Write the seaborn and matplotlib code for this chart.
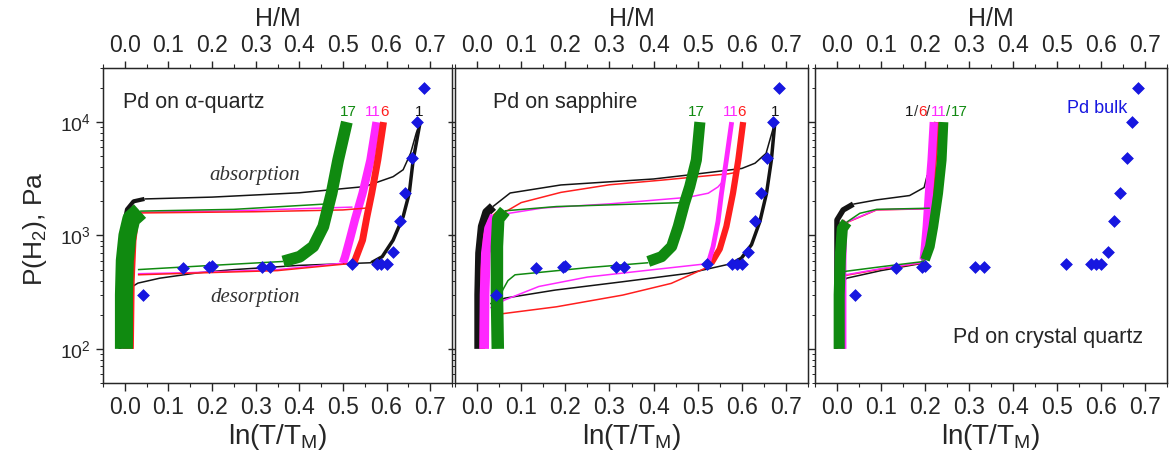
import numpy as np
import pandas as pd
import matplotlib
matplotlib.use('Agg')
import matplotlib.pyplot as plt
from matplotlib.ticker import MultipleLocator, LogLocator, NullFormatter
import seaborn as sns

sns.set_style('ticks')
plt.rcParams['font.family'] = ['Liberation Sans', 'DejaVu Sans']
plt.rcParams['mathtext.default'] = 'regular'

# ---- data: (ln(T/TM), P in Pa) ----
# Pd bulk (same in all panels)
BULK_X = [0.042, 0.133, 0.194, 0.200, 0.314, 0.333, 0.521, 0.577, 0.588, 0.601,
          0.615, 0.630, 0.643, 0.658, 0.670, 0.685]
BULK_P = [300, 515, 531, 535, 531, 531, 560, 560, 560, 560,
          711, 1350, 2370, 4850, 10000, 19900]

# Pd on alpha-quartz
QZ_K_ALPHA = [(-0.010, 100), (-0.010, 500), (-0.005, 1100), (0.005, 1700), (0.020, 2000), (0.045, 2100)]
QZ_K_ABS = [(0.045, 2100), (0.20, 2180), (0.40, 2380), (0.55, 2700), (0.615, 3300), (0.638, 3800),
            (0.655, 5300), (0.668, 8000), (0.677, 10000)]
QZ_K_BETA = [(0.677, 10000), (0.661, 4630), (0.652, 2360), (0.638, 1465), (0.615, 910), (0.590, 650), (0.565, 575)]
QZ_K_DES = [(0.565, 575), (0.40, 545), (0.25, 500), (0.17, 470), (0.08, 420), (0.03, 380), (0.01, 340)]

QZ_R_ALPHA = [(0.008, 100), (0.010, 400), (0.014, 900), (0.020, 1400), (0.035, 1580)]
QZ_R_ABS = [(0.035, 1580), (0.30, 1620), (0.50, 1680), (0.558, 1750)]
QZ_R_BETA = [(0.593, 10000), (0.580, 4630), (0.566, 2360), (0.555, 1465), (0.545, 910), (0.525, 570)]
QZ_R_DES = [(0.525, 570), (0.35, 490), (0.15, 465), (0.03, 450)]

QZ_M_ALPHA = [(0.000, 100), (0.003, 500), (0.010, 1100), (0.030, 1600)]
QZ_M_ABS = [(0.030, 1600), (0.25, 1650), (0.522, 1780)]
QZ_M_BETA = [(0.577, 10000), (0.563, 4630), (0.545, 2360), (0.528, 1400), (0.515, 900), (0.505, 650), (0.500, 570)]
QZ_M_DES = [(0.500, 570), (0.35, 500), (0.15, 470), (0.03, 460)]

QZ_G_ALPHA = [(-0.002, 100), (-0.002, 300), (0.000, 600), (0.006, 1000), (0.015, 1400), (0.035, 1640)]
QZ_G_ABS = [(0.035, 1640), (0.25, 1700), (0.466, 1900)]
QZ_G_BETA = [(0.509, 10000), (0.489, 4630), (0.474, 2360), (0.455, 1200), (0.432, 800), (0.401, 650), (0.363, 590)]
QZ_G_DES = [(0.363, 590), (0.20, 545), (0.03, 500)]

# Pd on sapphire
SP_K_ALPHA = [(0.004, 100), (0.004, 300), (0.006, 700), (0.012, 1200), (0.022, 1600), (0.036, 1800)]
SP_K_ABS = [(0.036, 1800), (0.075, 2370), (0.19, 2790), (0.40, 3150), (0.48, 3420), (0.60, 3900),
            (0.63, 4340), (0.655, 5300), (0.668, 8000), (0.675, 10000)]
SP_K_BETA = [(0.675, 10000), (0.667, 4630), (0.656, 2360), (0.641, 1330), (0.622, 830), (0.599, 630), (0.577, 565)]
SP_K_DES = [(0.577, 565), (0.478, 463), (0.328, 390), (0.177, 330), (0.063, 280), (0.03, 250)]

SP_R_ALPHA = [(0.012, 100), (0.014, 500), (0.020, 1000), (0.030, 1350), (0.048, 1570)]
SP_R_ABS = [(0.048, 1570), (0.068, 1650), (0.10, 1950), (0.19, 2400), (0.30, 2800), (0.42, 3080),
            (0.50, 3300), (0.57, 3500), (0.587, 3600)]
SP_R_BETA = [(0.603, 10000), (0.592, 4630), (0.580, 2360), (0.565, 1200), (0.550, 760), (0.531, 570)]
SP_R_DES = [(0.531, 560), (0.52, 520), (0.44, 378), (0.33, 298), (0.18, 235), (0.065, 206), (0.04, 200)]

SP_M_ALPHA = [(0.016, 100), (0.017, 300), (0.020, 700), (0.027, 1150), (0.040, 1500)]
SP_M_ABS = [(0.040, 1500), (0.15, 1750), (0.30, 1900), (0.478, 2170), (0.524, 2360), (0.546, 2680), (0.557, 3000)]
SP_M_BETA = [(0.577, 10000), (0.565, 4630), (0.554, 2360), (0.546, 1330), (0.535, 800), (0.524, 570)]
SP_M_DES = [(0.524, 565), (0.40, 500), (0.25, 430), (0.14, 355), (0.063, 270), (0.03, 230)]

SP_G_ALPHA = [(0.047, 100), (0.045, 300), (0.045, 800), (0.048, 1400), (0.063, 1650)]
SP_G_ABS = [(0.063, 1650), (0.18, 1800), (0.466, 1950)]
SP_G_BETA = [(0.505, 10000), (0.497, 4630), (0.482, 2700), (0.470, 1920), (0.456, 1200), (0.441, 800),
             (0.418, 650), (0.388, 590)]
SP_G_DES = [(0.388, 575), (0.25, 520), (0.086, 450), (0.070, 400), (0.058, 330), (0.050, 260)]

# Pd on crystal quartz
CQ_K_ALPHA = [(0.000, 100), (0.000, 600), (0.000, 1370), (0.014, 1680), (0.037, 1890)]
CQ_K_ABS = [(0.037, 1890), (0.09, 2060), (0.165, 2250), (0.198, 2650), (0.205, 3400)]
CQ_K_BETA = [(0.226, 10000), (0.216, 5000), (0.208, 2360), (0.203, 1200), (0.199, 850), (0.196, 600)]
CQ_K_DES = [(0.196, 570), (0.10, 490), (0.022, 420), (0.010, 380)]

CQ_R_ALPHA = [(0.010, 100), (0.010, 600), (0.012, 1200), (0.022, 1300)]
CQ_R_ABS = [(0.022, 1300), (0.09, 1680), (0.207, 1720)]
CQ_R_BETA = [(0.228, 10000), (0.220, 5000), (0.214, 2360), (0.208, 1200), (0.202, 850), (0.198, 620)]
CQ_R_DES = [(0.198, 575), (0.10, 505), (0.02, 445)]

CQ_M_ALPHA = [(0.012, 100), (0.012, 600), (0.014, 1200), (0.022, 1310)]
CQ_M_ABS = [(0.022, 1310), (0.09, 1690), (0.207, 1720)]
CQ_M_BETA = [(0.220, 10000), (0.215, 4630), (0.209, 2360), (0.204, 1200), (0.200, 800), (0.197, 610)]
CQ_M_DES = [(0.197, 580), (0.10, 510), (0.02, 450)]

CQ_G_ALPHA = [(0.005, 100), (0.005, 300), (0.008, 700), (0.012, 1150), (0.022, 1310)]
CQ_G_ABS = [(0.022, 1310), (0.052, 1570), (0.09, 1700), (0.211, 1740)]
CQ_G_BETA = [(0.242, 10000), (0.238, 4630), (0.230, 2360), (0.219, 1200), (0.211, 800), (0.200, 610)]
CQ_G_DES = [(0.198, 590), (0.10, 530), (0.014, 480)]

XTICKS = [0.0, 0.1, 0.2, 0.3, 0.4, 0.5, 0.6, 0.7]

COL = {'K': '#141414', 'R': '#ff1e1e', 'M': '#ff28ff', 'G': '#108a10'}
BLUE = '#1717e0'


def trace(ax, pts, color, lw):
    df = pd.DataFrame(pts, columns=['x', 'p'])
    sns.lineplot(data=df, x='x', y='p', sort=False, estimator=None, color=color,
                 lw=lw, ax=ax, legend=False, solid_joinstyle='round', solid_capstyle='butt')


# curves per panel: (colour, alpha, abs, beta, des, alpha width, beta width)
panels = [
    [('K', QZ_K_ALPHA, QZ_K_ABS, QZ_K_BETA, QZ_K_DES, 3, 2.5),
     ('M', QZ_M_ALPHA, QZ_M_ABS, QZ_M_BETA, QZ_M_DES, 5, 6),
     ('R', QZ_R_ALPHA, QZ_R_ABS, QZ_R_BETA, QZ_R_DES, 8, 5),
     ('G', QZ_G_ALPHA, QZ_G_ABS, QZ_G_BETA, QZ_G_DES, 13, 8.5)],
    [('K', SP_K_ALPHA, SP_K_ABS, SP_K_BETA, SP_K_DES, 6.5, 2.5),
     ('R', SP_R_ALPHA, SP_R_ABS, SP_R_BETA, SP_R_DES, 4, 4.5),
     ('M', SP_M_ALPHA, SP_M_ABS, SP_M_BETA, SP_M_DES, 7, 3.5),
     ('G', SP_G_ALPHA, SP_G_ABS, SP_G_BETA, SP_G_DES, 9, 8)],
    [('K', CQ_K_ALPHA, CQ_K_ABS, CQ_K_BETA, CQ_K_DES, 4, 3),
     ('R', CQ_R_ALPHA, CQ_R_ABS, CQ_R_BETA, CQ_R_DES, 6, 5),
     ('M', CQ_M_ALPHA, CQ_M_ABS, CQ_M_BETA, CQ_M_DES, 6, 6),
     ('G', CQ_G_ALPHA, CQ_G_ABS, CQ_G_BETA, CQ_G_DES, 8, 7)],
]

W, H = 1172, 463
fig = plt.figure(figsize=(W / 100, H / 100), dpi=100)
boxes = [(103, 349), (455, 353), (815, 352)]
axes = []

for i, (left, width) in enumerate(boxes):
    ax = fig.add_axes([left / W, 80 / H, width / W, 315 / H])
    ax.set_yscale('log')
    for c, alpha, absb, beta, des, lwa, lwb in panels[i]:
        trace(ax, absb, COL[c], 1.1)
        trace(ax, des, COL[c], 1.1)
        trace(ax, alpha, COL[c], lwa)
        trace(ax, beta, COL[c], lwb)
    sns.scatterplot(x=BULK_X, y=BULK_P, marker='D', s=36, color=BLUE, edgecolor=BLUE,
                    linewidth=0.5, ax=ax, zorder=5)

    ax.set_xlim(-0.05, 0.75)
    ax.set_ylim(50, 30000)
    ax.set_xticks(XTICKS)
    ax.set_xticklabels([f'{t:.1f}' for t in XTICKS])
    ax.xaxis.set_minor_locator(MultipleLocator(0.05))
    ax.yaxis.set_major_locator(LogLocator(base=10))
    ax.yaxis.set_minor_locator(LogLocator(base=10, subs=np.arange(2, 10)))
    ax.yaxis.set_minor_formatter(NullFormatter())
    ax.tick_params(axis='x', which='major', length=6, width=1, labelsize=16.5, pad=3)
    ax.tick_params(axis='x', which='minor', length=3, width=0.8)
    ax.tick_params(axis='y', which='major', length=5, width=1, labelsize=14)
    ax.tick_params(axis='y', which='minor', length=2.5, width=0.7)
    if i > 0:
        ax.tick_params(axis='y', labelleft=False)
    for sp in ax.spines.values():
        sp.set_linewidth(1.0)
        sp.set_color('#222222')
    ax.set_xlabel('ln(T/T$_\\mathregular{M}$)', fontsize=20)
    ax.xaxis.set_label_coords(0.5, -0.125)
    ax.set_ylabel('')

    top = ax.twiny()
    top.set_xlim(-0.05, 0.75)
    top.set_xticks(XTICKS)
    top.set_xticklabels([f'{t:.1f}' for t in XTICKS])
    top.xaxis.set_minor_locator(MultipleLocator(0.05))
    top.tick_params(axis='x', which='major', length=5, width=1, labelsize=16.5, pad=3)
    top.tick_params(axis='x', which='minor', length=3, width=0.8)
    top.set_xlabel('H/M', fontsize=18, labelpad=6)
    axes.append(ax)

ax1, ax2, ax3 = axes
ax1.set_ylabel('P(H$_\\mathregular{2}$), Pa', fontsize=19)
ax1.yaxis.set_label_coords(-0.155, 0.49)

# panel 1 annotations
ax1.text(0.057, 0.892, 'Pd on α-quartz', transform=ax1.transAxes, fontsize=15.5, ha='left', va='center')
ax1.text(0.702, 0.86, '17', color=COL['G'], transform=ax1.transAxes, fontsize=11, ha='center', va='center')
ax1.text(0.772, 0.86, '11', color=COL['M'], transform=ax1.transAxes, fontsize=11, ha='center', va='center')
ax1.text(0.806, 0.86, '6', color=COL['R'], transform=ax1.transAxes, fontsize=11, ha='center', va='center')
ax1.text(0.906, 0.86, '1', color=COL['K'], transform=ax1.transAxes, fontsize=11, ha='center', va='center')
ax1.text(0.436, 0.66, 'absorption', transform=ax1.transAxes, fontsize=15, ha='center', va='center',
         family=['Liberation Serif', 'DejaVu Serif'], style='italic', color='#333333')
ax1.text(0.436, 0.273, 'desorption', transform=ax1.transAxes, fontsize=15, ha='center', va='center',
         family=['Liberation Serif', 'DejaVu Serif'], style='italic', color='#333333')

# panel 2 annotations
ax2.text(0.108, 0.892, 'Pd on sapphire', transform=ax2.transAxes, fontsize=15.5, ha='left', va='center')
ax2.text(0.685, 0.86, '17', color=COL['G'], transform=ax2.transAxes, fontsize=11, ha='center', va='center')
ax2.text(0.780, 0.86, '11', color=COL['M'], transform=ax2.transAxes, fontsize=11, ha='center', va='center')
ax2.text(0.813, 0.86, '6', color=COL['R'], transform=ax2.transAxes, fontsize=11, ha='center', va='center')
ax2.text(0.907, 0.86, '1', color=COL['K'], transform=ax2.transAxes, fontsize=11, ha='center', va='center')

# panel 3 annotations
t = ax3.text(0.256, 0.86, '1', color=COL['K'], transform=ax3.transAxes, fontsize=11, ha='left', va='center')
for piece, c in [('/', '#333333'), ('6', COL['R']), ('/', '#333333'), ('11', COL['M']),
                 ('/', COL['G']), ('17', COL['G'])]:
    t = ax3.annotate(piece, xy=(1, 0), xycoords=t, va='bottom', ha='left', color=c, fontsize=11)
ax3.text(0.801, 0.873, 'Pd bulk', color=BLUE, transform=ax3.transAxes, fontsize=13, ha='center', va='center')
ax3.text(0.932, 0.146, 'Pd on crystal quartz', transform=ax3.transAxes, fontsize=15.5, ha='right', va='center')

fig.savefig('out.png', dpi=100)
